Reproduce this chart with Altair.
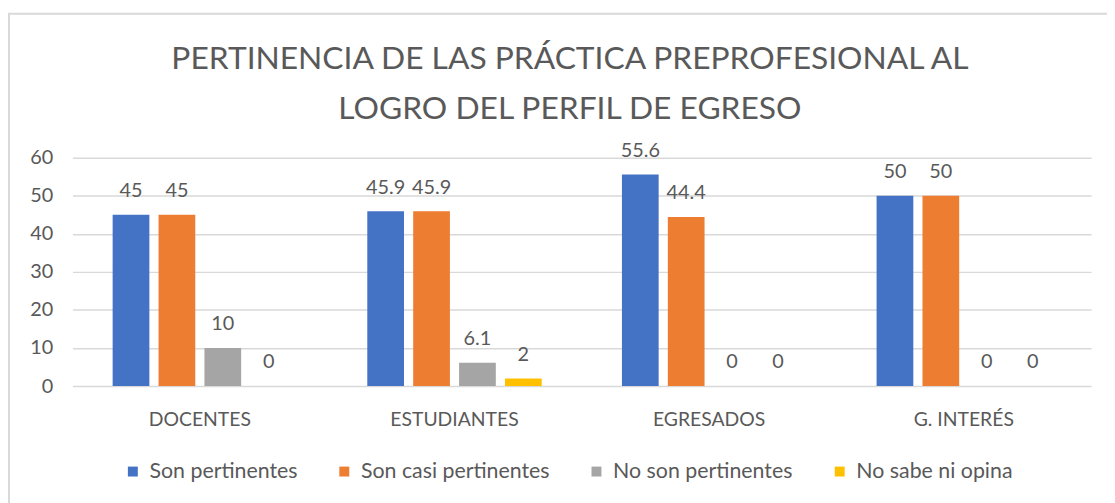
import altair as alt
import pandas as pd

groups = ["DOCENTES", "ESTUDIANTES", "EGRESADOS", "G. INTERÉS"]
series = ["Son pertinentes", "Son casi pertinentes", "No son pertinentes", "No sabe ni opina"]
son_pertinentes = [45, 45.9, 55.6, 50]
son_casi_pertinentes = [45, 45.9, 44.4, 50]
no_son_pertinentes = [10, 6.1, 0, 0]
no_sabe_ni_opina = [0, 2, 0, 0]
colors = ["#4472C4", "#ED7D31", "#A5A5A5", "#FFC000"]
y_ticks = [0, 10, 20, 30, 40, 50, 60]

rows = []
for s, vals in zip(series, [son_pertinentes, son_casi_pertinentes, no_son_pertinentes, no_sabe_ni_opina]):
    for g, v in zip(groups, vals):
        rows.append({"grupo": g, "serie": s, "valor": v, "etiqueta": f"{v:g}"})
df = pd.DataFrame(rows)

FONT = "Lato"
GREY = "#595959"

x = alt.X("grupo:N", sort=groups,
          scale=alt.Scale(paddingInner=0.279, paddingOuter=0.1395),
          axis=alt.Axis(title=None, labelAngle=0, domain=False, ticks=False,
                        labelPadding=25, labelFontSize=19.5, labelColor=GREY, labelFont=FONT))
xo = alt.XOffset("serie:N", sort=series, scale=alt.Scale(paddingInner=0.2, paddingOuter=0.1))
y = alt.Y("valor:Q", scale=alt.Scale(domain=[0, 60]),
          axis=alt.Axis(title=None, values=y_ticks, domain=False, ticks=False, labelPadding=20,
                        labelOverlap=False, tickCount=7,
                        gridColor="#d9d9d9", gridWidth=1.5, labelFontSize=20,
                        labelColor=GREY, labelFont=FONT))
color = alt.Color("serie:N", sort=series,
                  scale=alt.Scale(domain=series, range=colors),
                  legend=alt.Legend(title=None, orient="none", legendX=50, legendY=305,
                                    direction="horizontal", symbolType="square", symbolSize=100,
                                    symbolStrokeWidth=0, labelFontSize=21.5, labelFont=FONT,
                                    labelColor=GREY, columnPadding=36, labelOffset=6,
                                    labelLimit=400))

base = alt.Chart(df).encode(x=x, xOffset=xo, y=y)
bars = base.mark_bar().encode(color=color)
labels = base.mark_text(baseline="alphabetic", dy=-18, fontSize=20, font=FONT, color=GREY).encode(
    text="etiqueta:N")

# decorative chart-area frame (light grey border of the chart object)
frame = alt.Chart(pd.DataFrame({"k": [0]})).mark_rect(
    fill=None, stroke="#d9d9d9", strokeWidth=2
).encode(x=alt.value(-64), x2=alt.value(1060), y=alt.value(-145), y2=alt.value(370))

chart = alt.layer(frame, bars, labels).properties(
    width=1026, height=230,
    title=alt.TitleParams(
        text=["PERTINENCIA DE LAS PRÁCTICA PREPROFESIONAL AL", "LOGRO DEL PERFIL DE EGRESO"],
        fontSize=32, font=FONT, fontWeight="normal", color=GREY, lineHeight=50,
        anchor="middle", dx=-12, offset=-114),
    padding={"left": 65, "top": 149, "right": 16, "bottom": 116},
    autosize="none",
).configure_view(stroke=None)

chart.save("out.html", embed_options={"renderer": "svg", "actions": False})
